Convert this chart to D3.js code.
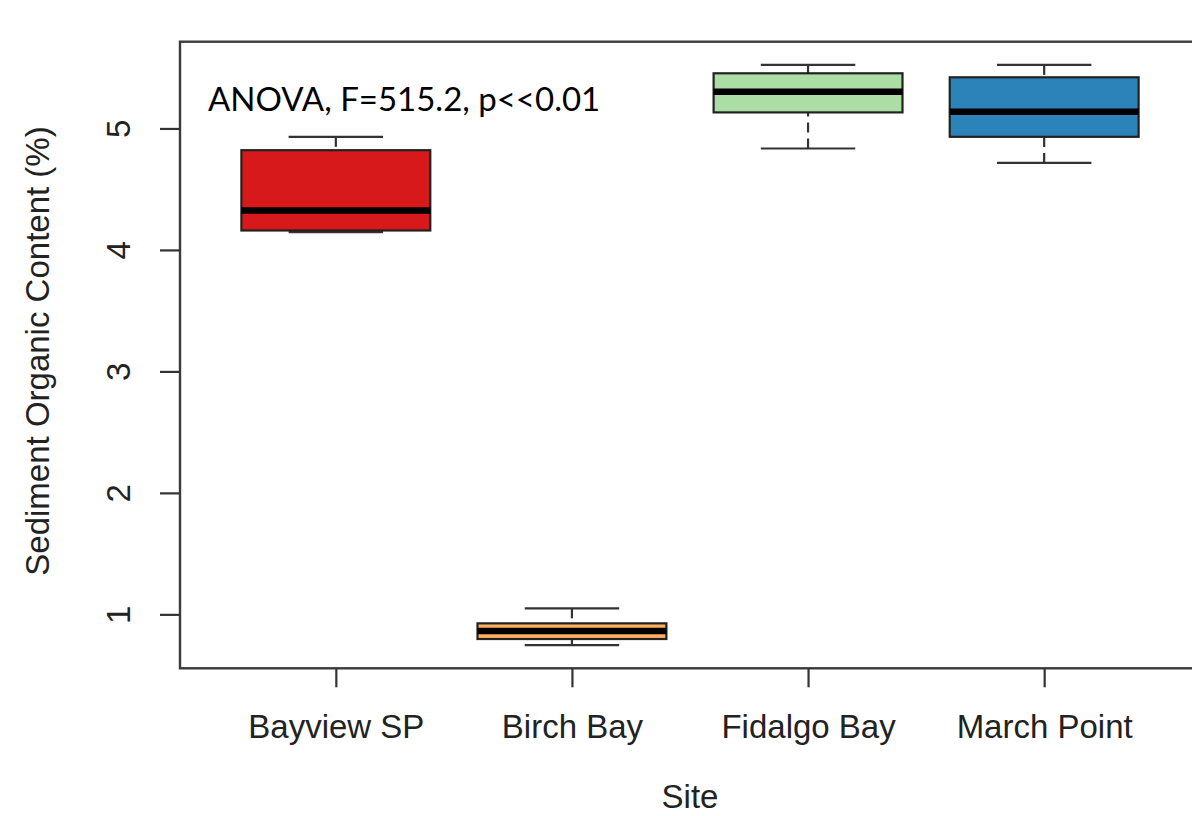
<!DOCTYPE html>
<html>
<head>
<meta charset="utf-8">
<script src="https://cdn.jsdelivr.net/npm/d3@7"></script>
<style>
html,body{margin:0;padding:0;background:#fff;overflow:hidden;}
</style>
</head>
<body>
<svg id="chart" width="1192" height="816"></svg>
<script>
const sites = ["Bayview SP", "Birch Bay", "Fidalgo Bay", "March Point"];
const whiskerLow = [4.146, 0.747, 4.835, 4.716];
const q1 = [4.160, 0.797, 5.132, 4.931];
const median = [4.325, 0.863, 5.302, 5.137];
const q3 = [4.821, 0.926, 5.454, 5.421];
const whiskerHigh = [4.931, 1.050, 5.523, 5.523];
const colors = ["#D7191C", "#FDAE61", "#ABDDA4", "#2B83BA"];
const yTicks = [1, 2, 3, 4, 5];
const yTitle = "Sediment Organic Content (%)";
const xTitle = "Site";
const annotation = "ANOVA, F=515.2, p<<0.01";

const svg = d3.select("#chart");
const mLeft = 180, mRight = 1200, mTop = 41.7, mBottom = 668.3;

const dmin = d3.min(whiskerLow), dmax = d3.max(whiskerHigh);
const ext = 0.04 * (dmax - dmin);
const y = d3.scaleLinear().domain([dmin - ext, dmax + ext]).range([mBottom, mTop]);
const x = d3.scaleLinear().domain([0.34, sites.length + 0.66]).range([mLeft, mRight]);

const font = "'Liberation Sans', Arial, sans-serif";
const fs = "33px";
const stroke = "#333";
const bw = 0.4, cw = 0.2;

const data = sites.map((s, i) => ({s, i: i + 1, lo: whiskerLow[i], q1: q1[i], med: median[i], q3: q3[i], hi: whiskerHigh[i], c: colors[i]}));

const g = svg.append("g");
data.forEach(d => {
  const gg = g.append("g");
  gg.append("line").attr("x1", x(d.i)).attr("x2", x(d.i)).attr("y1", y(d.lo)).attr("y2", y(d.q1))
    .attr("stroke", stroke).attr("stroke-width", 2.2).attr("stroke-dasharray", "10,6");
  gg.append("line").attr("x1", x(d.i)).attr("x2", x(d.i)).attr("y1", y(d.hi)).attr("y2", y(d.q3))
    .attr("stroke", stroke).attr("stroke-width", 2.2).attr("stroke-dasharray", "10,6");
  [d.lo, d.hi].forEach(v => {
    gg.append("line").attr("x1", x(d.i - cw)).attr("x2", x(d.i + cw)).attr("y1", y(v)).attr("y2", y(v))
      .attr("stroke", stroke).attr("stroke-width", 2.2);
  });
  gg.append("rect").attr("x", x(d.i - bw)).attr("width", x(d.i + bw) - x(d.i - bw))
    .attr("y", y(d.q3)).attr("height", y(d.q1) - y(d.q3))
    .attr("fill", d.c).attr("stroke", "#222").attr("stroke-width", 2.2);
  gg.append("line").attr("x1", x(d.i - bw)).attr("x2", x(d.i + bw)).attr("y1", y(d.med)).attr("y2", y(d.med))
    .attr("stroke", "#000").attr("stroke-width", 6.5);
});

svg.append("rect").attr("x", mLeft).attr("y", mTop).attr("width", mRight - mLeft).attr("height", mBottom - mTop)
  .attr("fill", "none").attr("stroke", "#3a3a3a").attr("stroke-width", 2.4);

const yAxis = svg.append("g").attr("transform", `translate(${mLeft},0)`)
  .call(d3.axisLeft(y).tickValues(yTicks).tickSize(20).tickPadding(0).tickFormat(d3.format("d")));
yAxis.select(".domain").remove();
yAxis.selectAll(".tick line").attr("stroke", stroke).attr("stroke-width", 2.2);
yAxis.selectAll(".tick text").remove();
yAxis.selectAll(".tick").append("text")
  .attr("transform", "translate(-62,0) rotate(-90)")
  .attr("text-anchor", "middle").attr("dy", "0.35em")
  .attr("fill", "#222").style("font-family", font).style("font-size", fs)
  .text(d => d);

const xAxis = svg.append("g").attr("transform", `translate(0,${mBottom})`)
  .call(d3.axisBottom(x).tickValues(data.map(d => d.i)).tickSize(19).tickPadding(0).tickFormat(v => sites[v - 1]));
xAxis.select(".domain").remove();
xAxis.selectAll(".tick line").attr("stroke", stroke).attr("stroke-width", 2.2);
xAxis.selectAll(".tick text").attr("y", 58).attr("dy", "0.35em")
  .attr("fill", "#222").style("font-family", font).style("font-size", fs);

svg.append("text").attr("x", (mLeft + mRight) / 2).attr("y", 808)
  .attr("text-anchor", "middle").attr("fill", "#222").style("font-family", font).style("font-size", fs)
  .text(xTitle);
svg.append("text").attr("transform", `translate(49, 351) rotate(-90)`)
  .attr("text-anchor", "middle").attr("fill", "#222").style("font-family", font).style("font-size", fs)
  .text(yTitle);

svg.append("text").attr("x", 208).attr("y", 111)
  .attr("fill", "#000").style("font-family", "Lato, 'Open Sans', sans-serif").style("font-size", "33px")
  .text(annotation);
</script>
</body>
</html>
